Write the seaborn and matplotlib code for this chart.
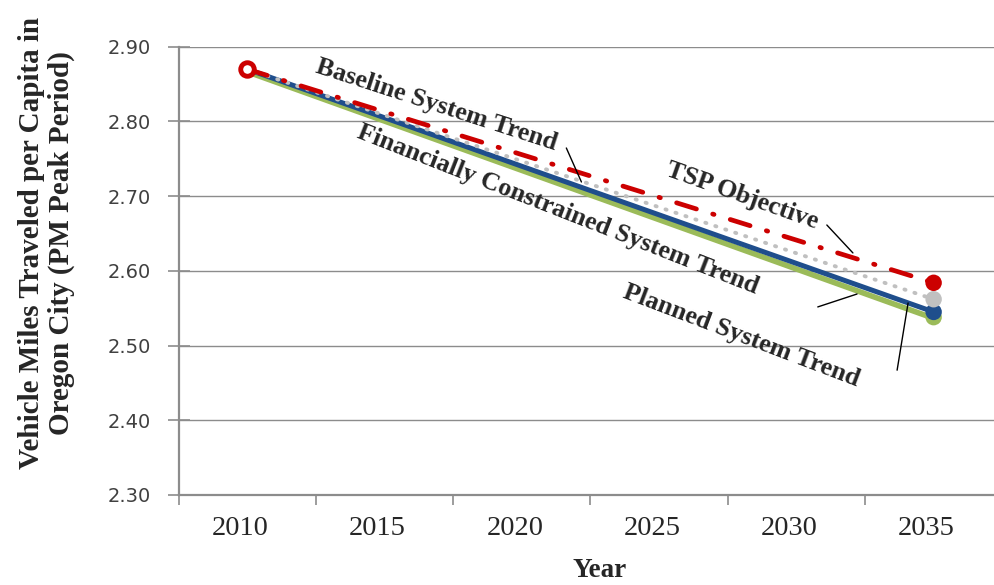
import numpy as np
import pandas as pd
import matplotlib
matplotlib.use('Agg')
import matplotlib.pyplot as plt
import matplotlib.transforms as mtransforms
import seaborn as sns

# data (only start and end points are plotted)
years = [2010, 2035]
tsp_objective = [2.870, 2.584]
baseline_trend = [2.870, 2.562]
fin_constrained_trend = [2.870, 2.545]
planned_trend = [2.868, 2.538]
tick_years = [2010, 2015, 2020, 2025, 2030, 2035]
y_ticks = [2.30, 2.40, 2.50, 2.60, 2.70, 2.80, 2.90]

series = {
    'Planned System Trend': planned_trend,
    'Financially Constrained System Trend': fin_constrained_trend,
    'Baseline System Trend': baseline_trend,
    'TSP Objective': tsp_objective,
}
df = pd.concat([pd.DataFrame({'year': years, 'vmt': v, 'scenario': k})
                for k, v in series.items()], ignore_index=True)

sns.set_style('white')
serif = ['Liberation Serif', 'DejaVu Serif']

fig = plt.figure(figsize=(9.94, 5.85), dpi=100)
ax = fig.add_axes([0.1798, 0.154, 0.8285, 0.766])

styles = {
    'Planned System Trend': dict(color='#9bbb59', lw=4.0, ls='-'),
    'Financially Constrained System Trend': dict(color='#1f4e8c', lw=3.6, ls='-'),
    'Baseline System Trend': dict(color='#c0c0c0', lw=2.8, ls=(0, (0.3, 2.4))),
    'TSP Objective': dict(color='#cc0000', lw=3.4, ls=(0, (4.4, 3.6, 0.3, 3.6))),
}
offsets = {'Planned System Trend': -0.0015}

for name in series:
    st = styles[name]
    sub = df[df['scenario'] == name].copy()
    sub['vmt'] = sub['vmt'] + offsets.get(name, 0)
    sns.lineplot(data=sub, x='year', y='vmt', ax=ax, color=st['color'],
                 linewidth=st['lw'], linestyle=st['ls'], legend=False,
                 solid_capstyle='butt', dash_capstyle='round')

# end markers
end = df[df['year'] == 2035]
for name in series:
    row = end[end['scenario'] == name]
    sns.scatterplot(data=row, x='year', y='vmt', ax=ax, s=140,
                    color=styles[name]['color'], edgecolor='none',
                    legend=False, zorder=5)
start = df[(df['year'] == 2010) & (df['scenario'] == 'TSP Objective')]
sns.scatterplot(data=start, x='year', y='vmt', ax=ax, s=95, color='white',
                edgecolor='#cc0000', linewidth=3.5, legend=False, zorder=6)

ax.set_xlim(2007.5, 2037.5)
ax.set_ylim(2.30, 2.90)
ax.set_yticks(y_ticks)
ax.set_yticklabels([f'{v:.2f}' for v in y_ticks], color='#404040',
                   fontsize=14, family='DejaVu Sans')
ax.yaxis.grid(True, color='#8c8c8c', lw=1.0)
ax.set_axisbelow(True)
ax.tick_params(axis='y', direction='inout', length=16, width=1.2,
               color='#8c8c8c', pad=12, left=True)

ax.set_xticks([2007.5 + 5 * i for i in range(7)])
ax.set_xticklabels([])
ax.set_xticks(tick_years, minor=True)
ax.set_xticklabels([str(y) for y in tick_years], minor=True,
                   fontsize=20.5, family=serif)
ax.tick_params(axis='x', which='major', direction='out', length=7,
               width=1.2, color='#8c8c8c', bottom=True)
ax.tick_params(axis='x', which='minor', length=0, pad=15)
shift = mtransforms.ScaledTranslation(-7 / 100, 0, fig.dpi_scale_trans)
for lbl in ax.get_xticklabels(minor=True):
    lbl.set_transform(lbl.get_transform() + shift)

for s in ['top', 'right']:
    ax.spines[s].set_visible(False)
for s in ['left', 'bottom']:
    ax.spines[s].set_color('#8c8c8c')
    ax.spines[s].set_linewidth(1.6)
ax.set_xlabel('')
ax.set_ylabel('')

fig.text(0.047, 0.585, 'Vehicle Miles Traveled per Capita in\nOregon City (PM Peak Period)',
         rotation=90, ha='center', va='center', multialignment='center',
         fontsize=21, fontweight='bold', family=serif, linespacing=1.15)
fig.text(0.603, 0.004, 'Year', ha='center', va='bottom', fontsize=19.5,
         fontweight='bold', family=serif)

# rotated callout labels with leader lines
lab = dict(fontsize=18.8, fontweight='bold', family=serif, rotation_mode='anchor',
           ha='left', va='baseline')
ax.text(2012.43, 2.866, 'Baseline System Trend', rotation=-18.0, **lab)
ax.text(2013.96, 2.779, 'Financially Constrained System Trend', rotation=-21.4, **lab)
ax.text(2025.20, 2.728, 'TSP Objective', rotation=-19.5, **lab)
ax.text(2023.63, 2.565, 'Planned System Trend', rotation=-20.8, **lab)

leader = dict(color='black', lw=1.0)
ax.plot([2021.62, 2022.17], [2.7645, 2.719], **leader)
ax.plot([2031.11, 2032.06], [2.6614, 2.624], **leader)
ax.plot([2030.78, 2032.21], [2.5517, 2.569], **leader)
ax.plot([2034.07, 2033.67], [2.557, 2.467], **leader)

fig.savefig('out.png', dpi=100)
